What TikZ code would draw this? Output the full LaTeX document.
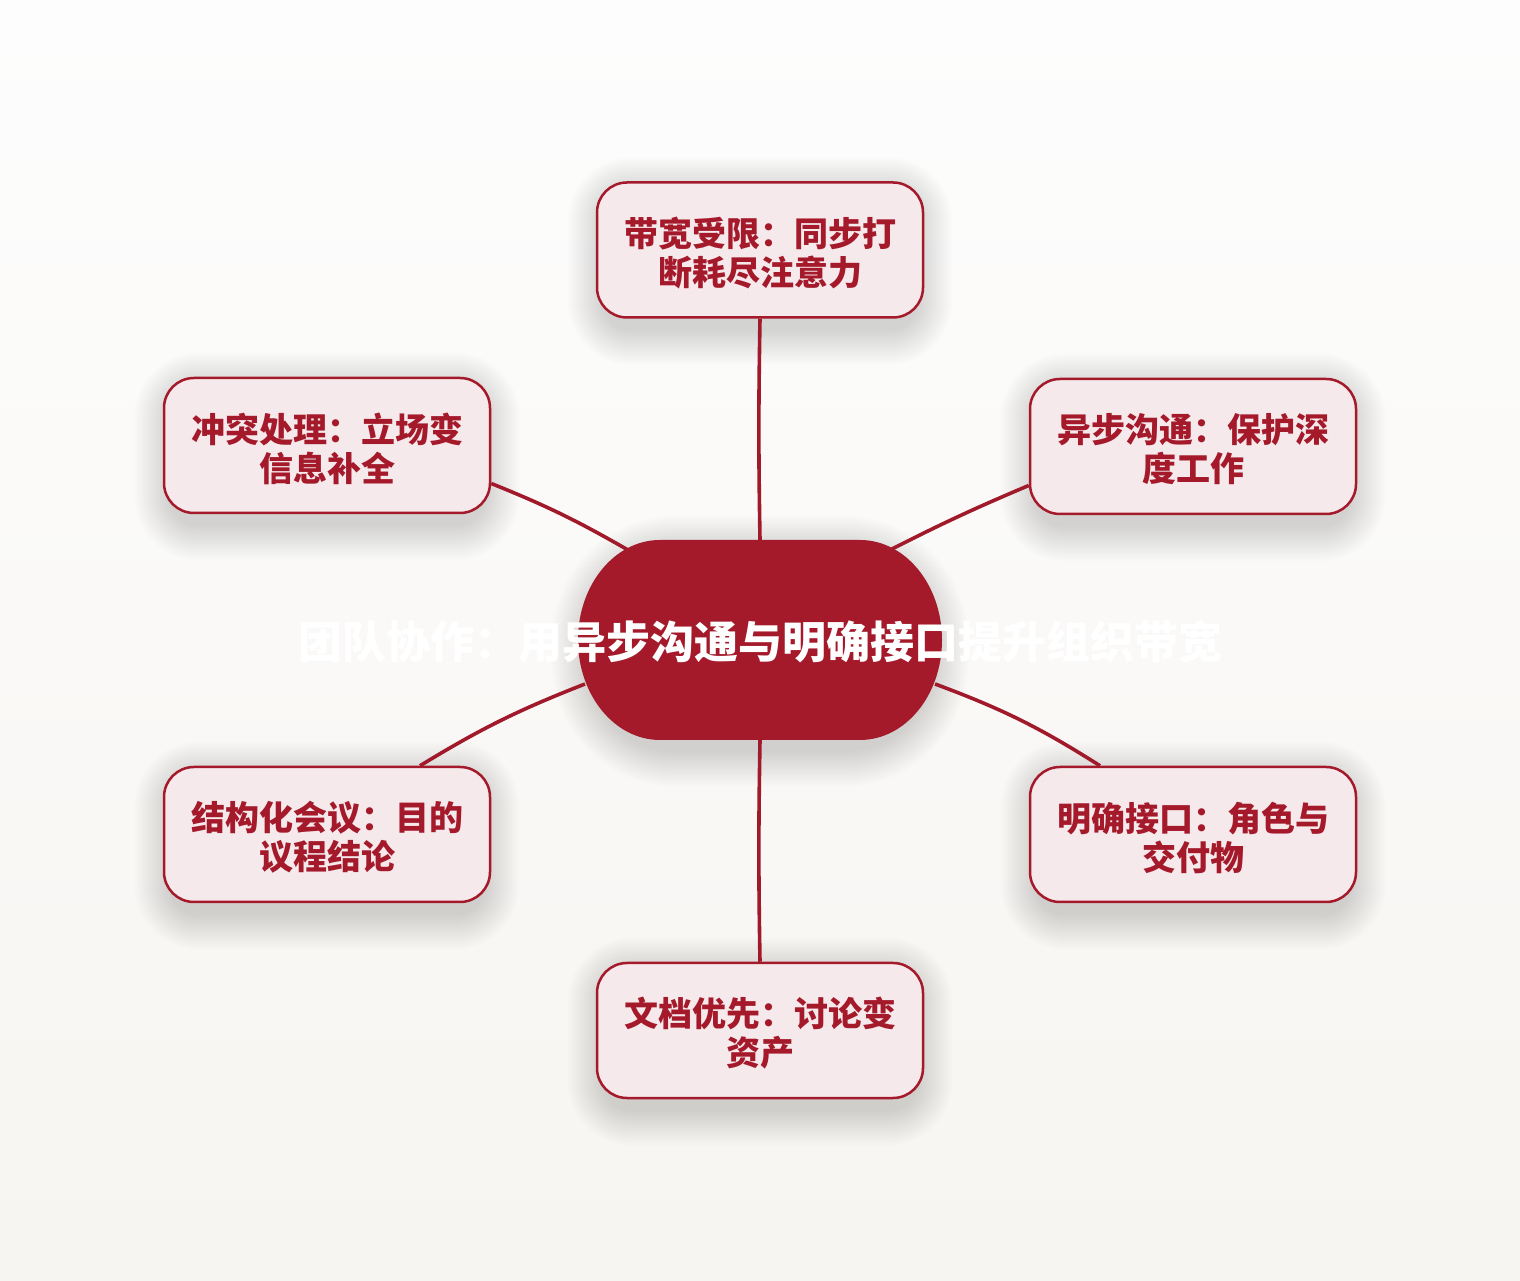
\documentclass[tikz,border=0pt]{standalone}
\usepackage{fontspec}
\newfontfamily\cjk{Noto Sans CJK SC}
\usetikzlibrary{calc}
\definecolor{cred}{HTML}{A51A2B}
\definecolor{cline}{HTML}{A01A2B}
\definecolor{cfill}{HTML}{F5E9EC}
\definecolor{bgtop}{HTML}{FDFDFD}
\definecolor{bgbot}{HTML}{F7F5F1}
\tikzset{
  box/.style={draw=cred, line width=2.5pt, fill=cfill, rounded corners=30pt,
    minimum width=326pt, minimum height=135pt, inner sep=0pt},
  boxtext/.style={inner sep=0pt, font=\cjk\bfseries\fontsize{34}{39}\selectfont,
    text=cred, align=center},
  hub/.style={minimum width=364pt, minimum height=200pt, inner sep=0pt, draw=none},
  link/.style={draw=cline, line width=3.6pt},
}
\newcommand{\boxshadow}[1]{%
  \foreach \i in {0,...,19}{%
    \fill[black, opacity=0.0085, rounded corners={30pt+\i*1.8pt}]
      ($(#1.south west)+(-\i*1.8pt+6pt,-\i*1.8pt-12pt)$) rectangle
      ($(#1.north east)+(\i*1.8pt-6pt,\i*1.8pt-10pt)$);
  }}
\begin{document}
\begin{tikzpicture}[x=1pt,y=1pt]
\useasboundingbox (0,0) rectangle (1520,1280);
\shade[top color=bgtop, bottom color=bgbot] (0,0) rectangle (1520,1280);

% positions
\node[hub] (c) at (760,640) {};
\path coordinate (pt) at (760,1030)
      coordinate (pul) at (327,834.5)
      coordinate (pur) at (1193,833.5)
      coordinate (pll) at (327,445.5)
      coordinate (plr) at (1193,445.5)
      coordinate (pbot) at (760,249.5);
\path node[box, draw=none, fill=none] (top) at (pt) {}
      node[box, draw=none, fill=none] (ul) at (pul) {}
      node[box, draw=none, fill=none] (ur) at (pur) {}
      node[box, draw=none, fill=none] (ll) at (pll) {}
      node[box, draw=none, fill=none] (lr) at (plr) {}
      node[box, draw=none, fill=none] (bot) at (pbot) {};

% shadows
\foreach \n in {top,ul,ur,ll,lr,bot}{\boxshadow{\n}}
\foreach \i in {0,...,19}{%
  \fill[black, opacity=0.009, rounded corners={90pt+\i*1.8pt}]
    ($(c.south west)+(-\i*1.8pt+8pt,-\i*1.8pt-12pt)$) rectangle
    ($(c.north east)+(\i*1.8pt-8pt,\i*1.8pt-10pt)$);
}

% connectors
\draw[link] (c.north) to[bend left=1] (top.south);
\draw[link] (c.south) to[bend right=1] (bot.north);
\draw[link] ($(ul.east)+(0,-38)$) to[bend left=4] ($(c.center)+(-132,90)$);
\draw[link] ($(c.center)+(130,90)$) to[bend left=2] ($(ur.west)+(0,-39)$);
\draw[link] ($(ll.north)+(93,0)$) to[bend left=5] ($(c.center)+(-175,-44)$);
\draw[link] ($(c.center)+(175,-44)$) to[bend left=6] ($(lr.north)+(-93,0)$);

% boxes
\node[box] at (top) {};
\node[box] at (ul) {};
\node[box] at (ur) {};
\node[box] at (ll) {};
\node[box] at (lr) {};
\node[box] at (bot) {};
\node[boxtext] (ttop) at ([yshift=-3pt]top.center) {带宽受限：同步打\\断耗尽注意力};
\node[boxtext] (tul) at ([yshift=-3pt]ul.center) {冲突处理：立场变\\信息补全};
\node[boxtext] (tur) at ([yshift=-3pt]ur.center) {异步沟通：保护深\\度工作};
\node[boxtext] (tll) at ([yshift=-3pt]ll.center) {结构化会议：目的\\议程结论};
\node[boxtext] (tlr) at ([yshift=-3pt]lr.center) {明确接口：角色与\\交付物};
\node[boxtext] (tbot) at ([yshift=-3pt]bot.center) {文档优先：讨论变\\资产};

% hub shape
\fill[cred] ($(c.center)+(-100,100)$) -- ($(c.center)+(100,100)$)
  arc[start angle=90, end angle=-90, x radius=82, y radius=100]
  -- ($(c.center)+(-100,-100)$)
  arc[start angle=270, end angle=90, x radius=82, y radius=100] -- cycle;
\node[font=\cjk\bfseries\fontsize{44}{50}\selectfont, text=white, inner sep=0pt]
  (title) at (760,638) {团队协作：用异步沟通与明确接口提升组织带宽};
\end{tikzpicture}
\end{document}
